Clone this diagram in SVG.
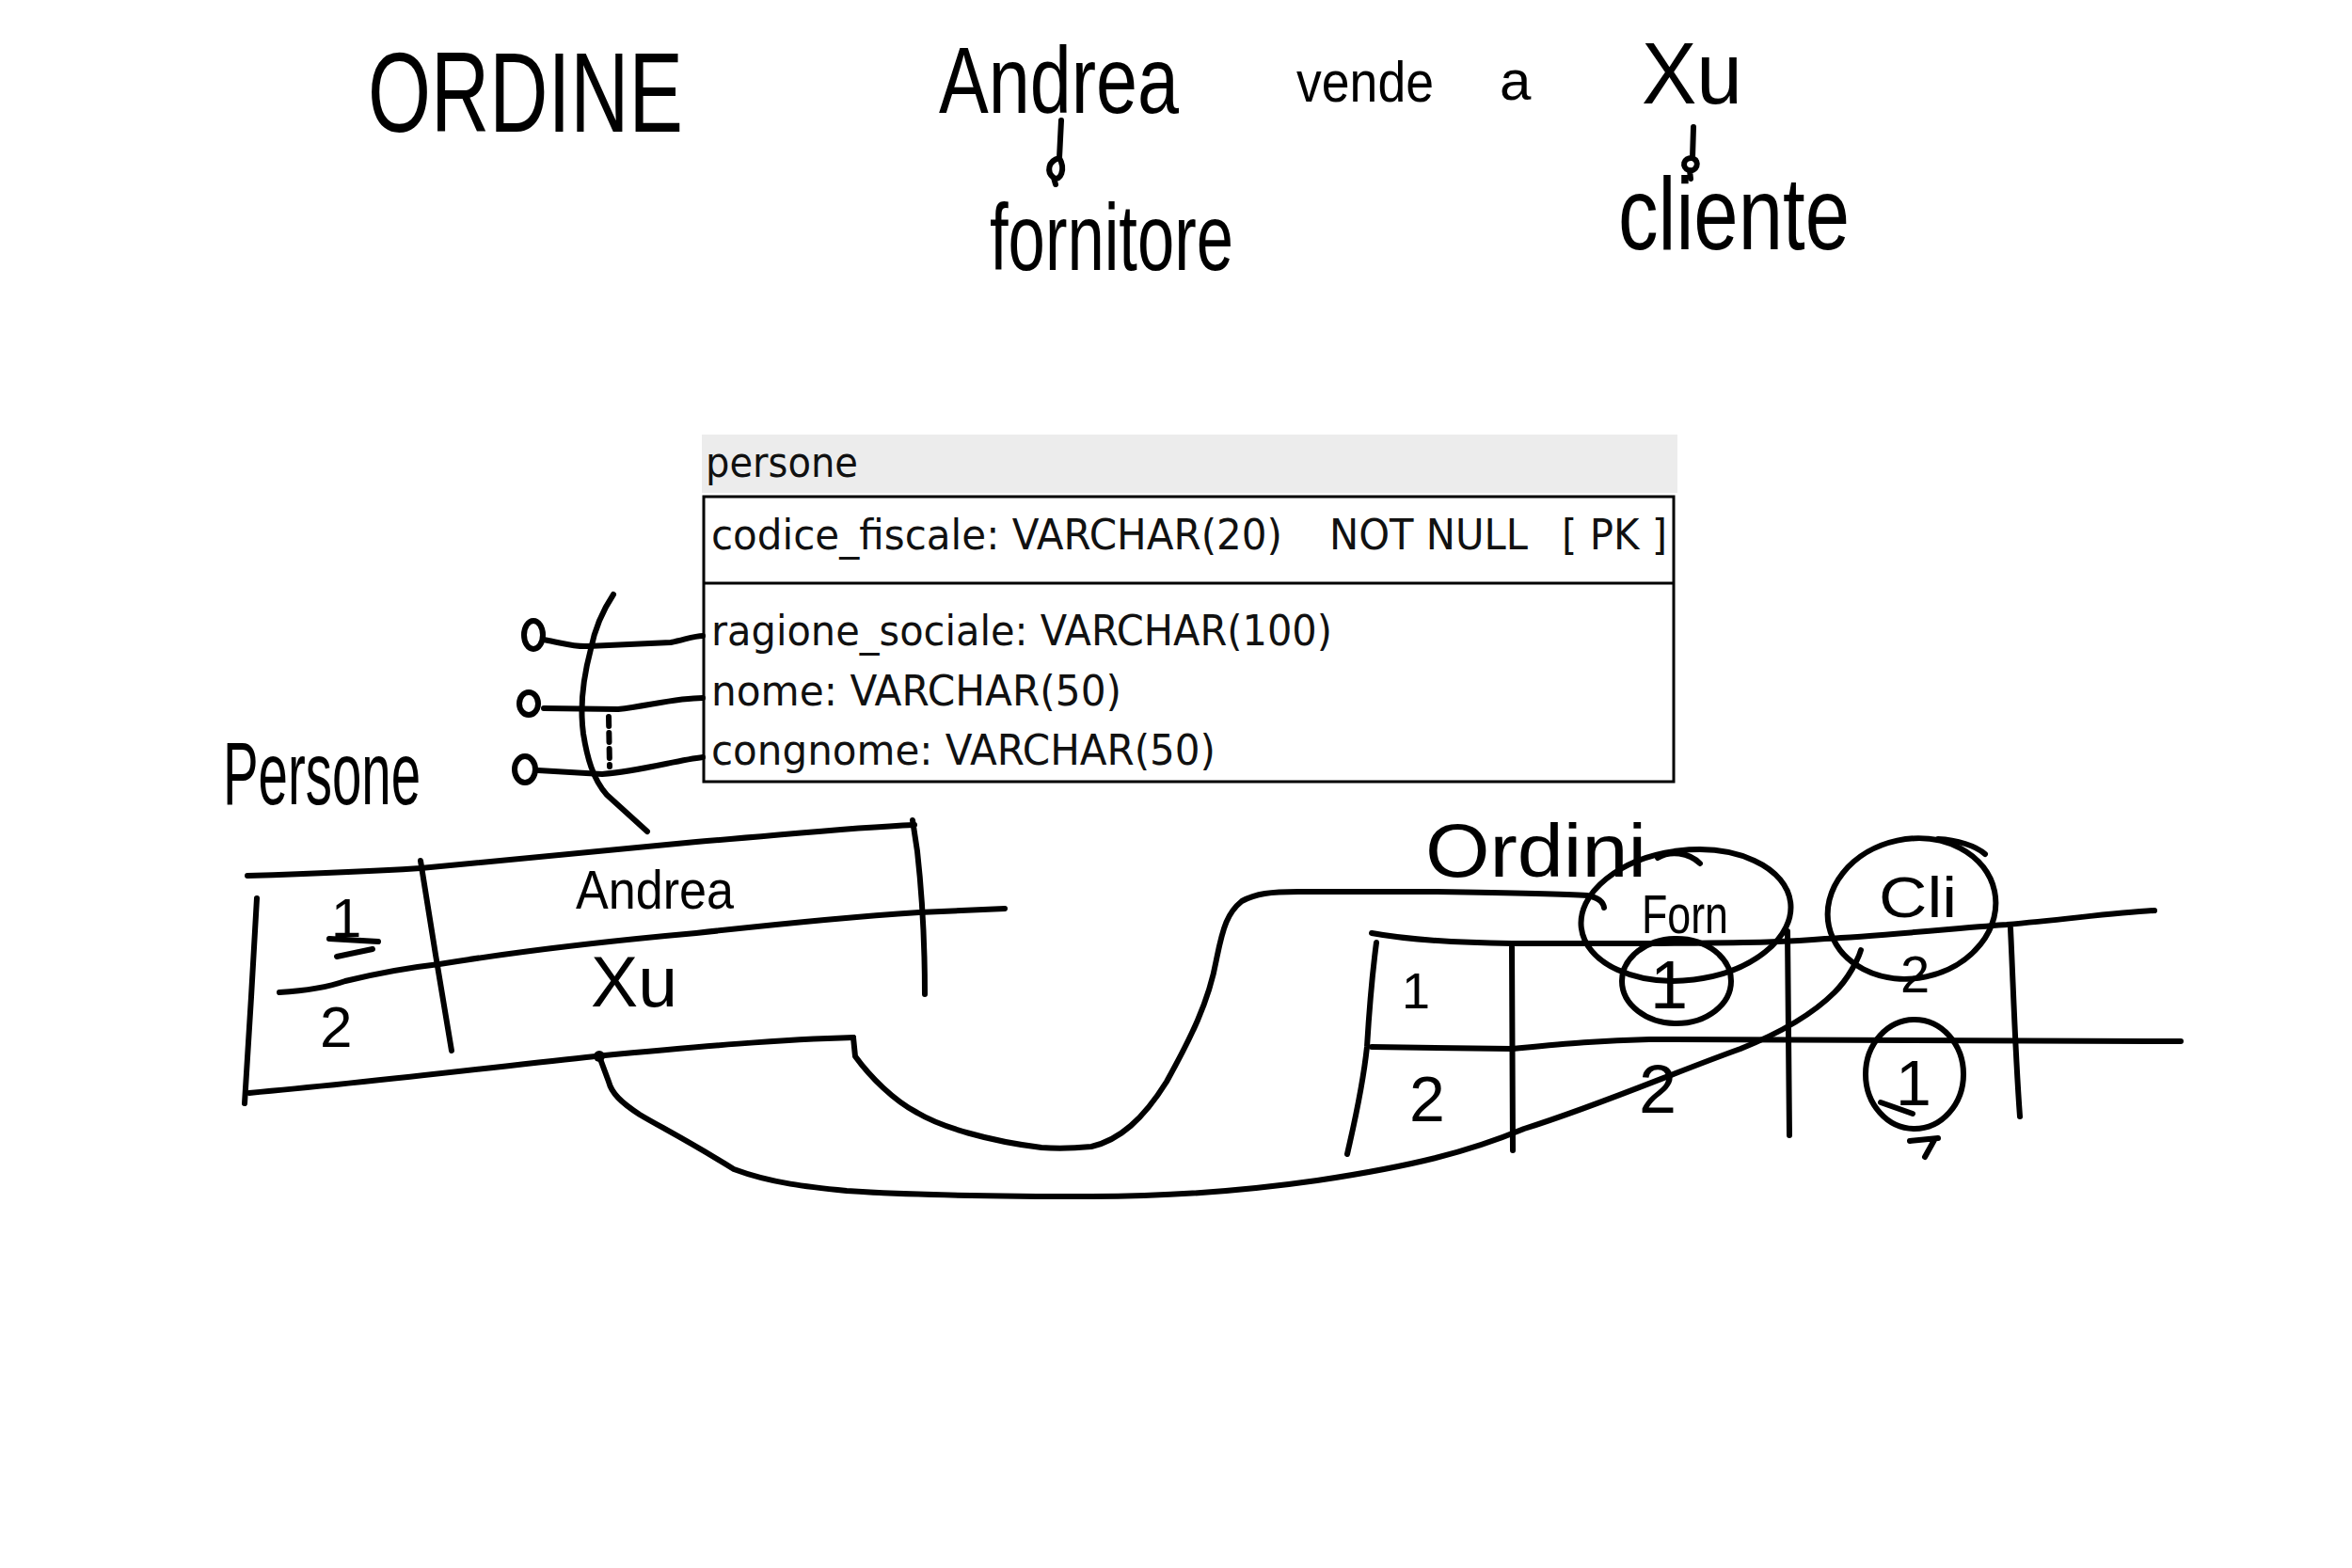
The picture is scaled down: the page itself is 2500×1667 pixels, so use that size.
<svg xmlns="http://www.w3.org/2000/svg" width="2500" height="1667" viewBox="0 0 2500 1667">
<style>
.ink{fill:none;stroke:#000;stroke-width:6;stroke-linecap:round;stroke-linejoin:round}
.thin{fill:none;stroke:#000;stroke-width:3}
.hand{font-family:"Liberation Sans","DejaVu Sans",sans-serif;fill:#000}
.tbl{font-family:"DejaVu Sans","Liberation Sans",sans-serif;font-size:45px;fill:#111}
</style>
<rect width="2500" height="1667" fill="#fff"/>

<g id="title">
<text class="hand" x="391" y="140" font-size="120" textLength="335" lengthAdjust="spacingAndGlyphs">ORDINE</text>
<text class="hand" x="998" y="120" font-size="100" textLength="255" lengthAdjust="spacingAndGlyphs">Andrea</text>
<text class="hand" x="1378" y="108" font-size="62" textLength="146" lengthAdjust="spacingAndGlyphs">vende</text>
<text class="hand" x="1594" y="106" font-size="60">a</text>
<text class="hand" x="1745" y="110" font-size="92" textLength="107" lengthAdjust="spacingAndGlyphs">Xu</text>
<text class="hand" x="1052" y="287" font-size="100" textLength="259" lengthAdjust="spacingAndGlyphs">fornitore</text>
<text class="hand" x="1720" y="265" font-size="110" textLength="246" lengthAdjust="spacingAndGlyphs">cliente</text>
<path class="ink" d="M1128,128 L1126,168 C1114,171 1112,183 1120,189 C1127,193 1133,180 1126,168 M1120,189 L1122,196"/>
<path class="ink" d="M1800,135 L1799,168 C1789,167 1787,178 1795,181 C1803,183 1808,172 1799,168 M1796,181 L1797,190"/>
</g>

<g id="persone-entity">
<rect x="746" y="462" width="1037" height="62" fill="#ececec"/>
<text class="tbl" x="750" y="507" textLength="162" lengthAdjust="spacingAndGlyphs">persone</text>
<rect class="thin" x="748" y="528" width="1031" height="303" fill="#fff"/>
<line class="thin" x1="748" y1="620" x2="1779" y2="620"/>
<text class="tbl" x="756" y="584" textLength="607" lengthAdjust="spacingAndGlyphs">codice_fiscale: VARCHAR(20)</text>
<text class="tbl" x="1413" y="584" textLength="211" lengthAdjust="spacingAndGlyphs">NOT NULL</text>
<text class="tbl" x="1660" y="584" textLength="112" lengthAdjust="spacingAndGlyphs">[ PK ]</text>
<text class="tbl" x="756" y="686" textLength="660" lengthAdjust="spacingAndGlyphs">ragione_sociale: VARCHAR(100)</text>
<text class="tbl" x="756" y="750" textLength="436" lengthAdjust="spacingAndGlyphs">nome: VARCHAR(50)</text>
<text class="tbl" x="756" y="813" textLength="536" lengthAdjust="spacingAndGlyphs">congnome: VARCHAR(50)</text>
</g>

<g id="attribute-bracket">
<ellipse class="ink" cx="567" cy="675" rx="10" ry="15"/>
<ellipse class="ink" cx="562" cy="748" rx="10" ry="12"/>
<ellipse class="ink" cx="558" cy="818" rx="11" ry="14"/>
<path class="ink" d="M652,632 C640,650 632,670 628,690 C620,720 616,750 620,780 C624,805 630,828 645,845 L688,884"/>
<path class="ink" d="M647,762 L648,815" stroke-width="4" stroke-dasharray="10 7"/>
</g>

<g id="persone-table">
<text class="hand" x="237" y="855" font-size="95" textLength="210" lengthAdjust="spacingAndGlyphs">Persone</text>
<path class="ink" d="M263,931 C330,929 400,926 447,923 C550,913 650,903 740,895 C830,888 900,880 972,877"/>
<path class="ink" d="M273,955 L267,1060 L260,1173"/>
<path class="ink" d="M447,915 L463,1015 L480,1117"/>
<path class="ink" d="M297,1055 C330,1053 350,1049 367,1043 C400,1035 440,1028 467,1025 C560,1010 650,1000 740,992 C830,982 900,975 977,970 L1068,966"/>
<path class="ink" d="M265,1162 C400,1150 520,1135 633,1123 C750,1112 830,1105 907,1103"/>
<path class="ink" d="M970,872 L975,905 C980,950 983,1000 983,1057"/>
<text class="hand" x="352" y="996" font-size="58">1</text>
<path class="ink" d="M350,998 L402,1001 M358,1017 L396,1009" stroke-width="8"/>
<text class="hand" x="340" y="1113" font-size="62">2</text>
<text class="hand" x="612" y="966" font-size="58" textLength="168" lengthAdjust="spacingAndGlyphs">Andrea</text>
<text class="hand" x="628" y="1070" font-size="76" textLength="92" lengthAdjust="spacingAndGlyphs">Xu</text>
</g>

<g id="ordini-table">
<text class="hand" x="1515" y="932" font-size="80" textLength="235" lengthAdjust="spacingAndGlyphs">Ordini</text>
<path class="ink" d="M1458,992 C1490,998 1540,1002 1607,1003 L1753,1003 C1850,1002 1900,1002 1940,998 C2000,995 2100,985 2133,983 C2200,977 2250,970 2290,968"/>
<path class="ink" d="M1463,1002 C1458,1040 1455,1080 1453,1113 C1448,1160 1438,1200 1432,1227"/>
<path class="ink" d="M1607,1007 L1608,1223"/>
<path class="ink" d="M1458,1113 L1607,1115 C1660,1110 1700,1106 1753,1105 L2283,1107 L2318,1107"/>
<path class="ink" d="M1900,990 L1902,1207"/>
<path class="ink" d="M2137,987 C2140,1050 2142,1120 2147,1187"/>
<text class="hand" x="1490" y="1072" font-size="54">1</text>
<text class="hand" x="1498" y="1192" font-size="68">2</text>
<ellipse class="ink" cx="1792" cy="973" rx="112" ry="69" transform="rotate(-7 1792 973)"/>
<path class="ink" d="M1762,912 C1775,904 1795,906 1807,918"/>
<text class="hand" x="1745" y="992" font-size="58" textLength="92" lengthAdjust="spacingAndGlyphs">Forn</text>
<ellipse class="ink" cx="1782" cy="1043" rx="58" ry="45"/>
<text class="hand" x="1754" y="1072" font-size="72">1</text>
<text class="hand" x="1742" y="1183" font-size="72">2</text>
<ellipse class="ink" cx="2032" cy="966" rx="90" ry="74" transform="rotate(-12 2032 966)"/>
<path class="ink" d="M2060,892 C2080,893 2100,899 2110,908"/>
<text class="hand" x="1997" y="975" font-size="62" textLength="83" lengthAdjust="spacingAndGlyphs">Cli</text>
<text class="hand" x="2020" y="1055" font-size="56">2</text>
<ellipse class="ink" cx="2035" cy="1142" rx="52" ry="58"/>
<text class="hand" x="2015" y="1175" font-size="68">1</text>
<path class="ink" d="M1999,1172 L2033,1184 M2030,1213 L2060,1210 M2056,1212 L2046,1230"/>
</g>

<g id="connectors">
<path class="ink" d="M578,680 C600,684 610,688 625,687 L713,683 C728,680 738,676 747,676"/>
<path class="ink" d="M578,753 L657,754 C690,750 720,742 747,742"/>
<path class="ink" d="M572,819 L640,823 C680,820 720,808 747,805"/>
<path class="ink" d="M907,1103 L909,1123 C925,1145 950,1170 975,1183 C1000,1198 1050,1213 1107,1220 C1130,1222 1150,1220 1160,1219 C1190,1212 1215,1190 1240,1150 C1265,1105 1285,1065 1293,1020 C1300,985 1305,970 1320,958 C1335,950 1350,948 1380,948 L1527,948 C1600,949 1660,950 1687,952 C1698,954 1704,958 1705,965"/>
<path class="ink" d="M637,1123 L647,1150 C650,1162 660,1172 680,1185 C700,1197 730,1212 780,1243 C820,1258 860,1262 900,1266 C960,1270 1050,1272 1160,1272 C1250,1272 1330,1265 1400,1255 C1500,1240 1560,1225 1620,1200 C1700,1175 1780,1140 1850,1115 C1900,1095 1930,1075 1950,1055 C1965,1040 1975,1020 1978,1010"/>
<circle cx="637" cy="1123" r="6" fill="#000"/>
</g>
</svg>
